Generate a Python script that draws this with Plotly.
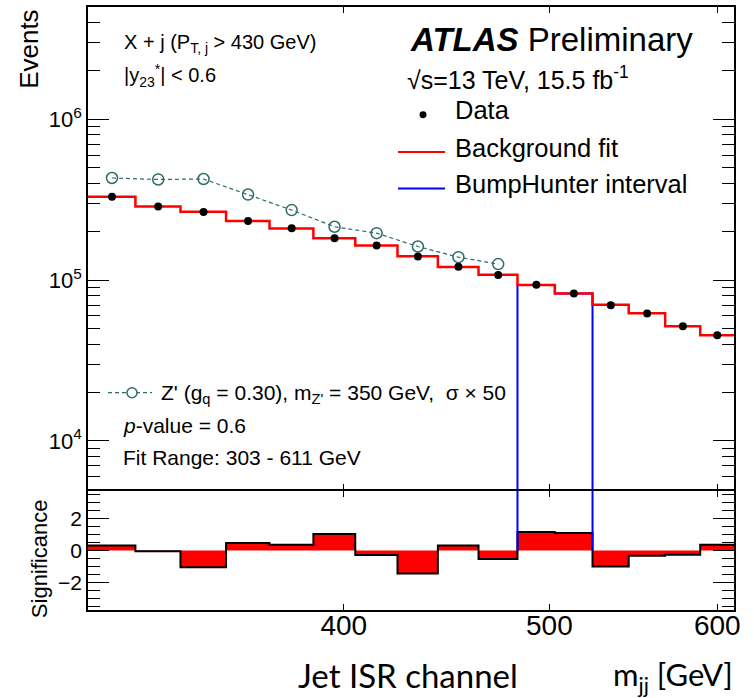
import numpy as np
import plotly.graph_objects as go

# ---------------- data ----------------
bin_edges = [303, 319, 335, 352, 369, 387, 405, 424, 443, 463, 483, 503, 524, 545, 567, 589, 611]
data_events = [330200, 286900, 265500, 233300, 210200, 182400, 164400, 140500,
               121100, 107800, 93700, 82600, 69800, 62150, 51740, 45480]
fit_events = [330000, 287000, 266000, 233000, 210000, 182000, 164500, 141000,
              121000, 108000, 93500, 82600, 70300, 62400, 51800, 45400]
signal_events = [432000, 423000, 426000, 341000, 273000, 215000, 196000, 162000, 139000, 126000]
significance = [0.31, -0.05, -1.04, 0.47, 0.35, 1.02, -0.29, -1.43,
                0.31, -0.53, 1.14, 1.08, -1.00, -0.33, -0.27, 0.35]
bh_interval = [483, 524]
x_tick_vals = [400, 500, 600]
y_main_range = [5e3, 5e6]
y_sig_range = [-3.7, 3.7]

# ---------------- geometry helpers ----------------
PL, PR, PT, PB = 88, 734, 5, 610
W, H = PR - PL, PB - PT
def px(x):
    return (x - PL) / W
def py(y):
    return (PB - y) / H

edges = np.array(bin_edges, dtype=float)
centers = 0.5 * (edges[:-1] + edges[1:])
fit_step = list(fit_events) + [fit_events[-1]]
sig_step = list(significance) + [significance[-1]]

TEAL = "rgb(47,107,107)"
ROOT_FONT = "Liberation Sans, Arial, sans-serif"
PPT_FONT = "Lato, Open Sans, sans-serif"

fig = go.Figure()

# BumpHunter interval (upper panel) - outline drawn under the fit
i0 = bin_edges.index(bh_interval[0])
i1 = bin_edges.index(bh_interval[1])
bx, by = [], []
bx.append(bin_edges[i0]); by.append(y_main_range[0] * 0.5)
for k in range(i0, i1):
    bx += [bin_edges[k], bin_edges[k + 1]]
    by += [fit_events[k], fit_events[k]]
bx.append(bin_edges[i1]); by.append(y_main_range[0] * 0.5)
fig.add_trace(go.Scatter(x=bx, y=by, mode="lines", line=dict(color="#0000ff", width=2),
                         xaxis="x", yaxis="y", showlegend=False, hoverinfo="skip"))

# Background fit
fig.add_trace(go.Scatter(x=bin_edges, y=fit_step, mode="lines", line_shape="hv",
                         line=dict(color="#ff0000", width=2.5),
                         xaxis="x", yaxis="y", showlegend=False))

# Signal
fig.add_trace(go.Scatter(x=centers[:len(signal_events)], y=signal_events, mode="lines+markers",
                         line=dict(color=TEAL, width=1.2, dash="4px,3px"),
                         marker=dict(symbol="circle-open", size=11, color=TEAL, line=dict(width=1.5)),
                         xaxis="x", yaxis="y", showlegend=False))

# Data
fig.add_trace(go.Scatter(x=centers, y=data_events, mode="markers",
                         marker=dict(symbol="circle", size=8, color="black"),
                         xaxis="x", yaxis="y", showlegend=False))

# Significance
fig.add_trace(go.Scatter(x=bin_edges, y=sig_step, mode="lines", line_shape="hv",
                         fill="tozeroy", fillcolor="#ff0000",
                         line=dict(color="black", width=2),
                         xaxis="x2", yaxis="y2", showlegend=False))

# BumpHunter interval (lower panel)
fig.add_trace(go.Scatter(x=[bh_interval[0], bh_interval[0], None, bh_interval[1], bh_interval[1]],
                         y=[0, y_sig_range[1] + 1, None, 0, y_sig_range[1] + 1], mode="lines",
                         line=dict(color="#0000ff", width=2),
                         xaxis="x2", yaxis="y2", showlegend=False, hoverinfo="skip"))

xr = [np.log10(bin_edges[0]), np.log10(bin_edges[-1])]
minor_y = [k * 10 ** n for n in range(3, 7) for k in range(2, 10)
           if y_main_range[0] < k * 10 ** n < y_main_range[1]]

axis_common = dict(showline=True, linecolor="black", linewidth=1.5, mirror="ticks",
                   ticks="inside", tickcolor="black", showgrid=False, zeroline=False)

LOW_TOP = (PB - 490.5) / H

fig.update_layout(
    width=754, height=698,
    margin=dict(l=PL, r=754 - PR, t=PT, b=698 - PB),
    paper_bgcolor="white", plot_bgcolor="white",
    font=dict(family=ROOT_FONT, color="black"),
    xaxis=dict(domain=[0, 1], anchor="y", type="log", range=xr, tickvals=x_tick_vals,
               showticklabels=False, ticklen=6, tickwidth=1.2, matches="x2", **axis_common),
    yaxis=dict(domain=[py(489), 1], anchor="x", type="log",
               range=[np.log10(y_main_range[0]), np.log10(y_main_range[1])],
               tickvals=[1e4, 1e5, 1e6], ticktext=["10<sup>4</sup>", "10<sup>5</sup>", "10<sup>6</sup>"],
               ticklen=21, tickwidth=1.2, tickfont=dict(size=22),
               minor=dict(tickvals=minor_y, ticklen=12, tickwidth=1.2, ticks="inside", tickcolor="black"),
               **axis_common),
    xaxis2=dict(domain=[0, 1], anchor="y2", type="log", range=xr, tickvals=x_tick_vals,
                ticktext=[str(v) for v in x_tick_vals], ticklen=6, tickwidth=1.2,
                tickfont=dict(size=28), ticklabelstandoff=-10, **axis_common),
    yaxis2=dict(domain=[0, LOW_TOP], anchor="x2", range=y_sig_range,
                tickvals=[-2, 0, 2], ticktext=["\u22122", "0", "2"],
                ticklen=21, tickwidth=1.2, tickfont=dict(size=21),
                minor=dict(dtick=0.5, ticklen=12, tickwidth=1.2, ticks="inside", tickcolor="black"),
                **axis_common),
)

def ann(text, x, y, size, xanchor="left", yanchor="middle", angle=0, family=ROOT_FONT):
    fig.add_annotation(text=text, x=px(x), y=py(y), xref="paper", yref="paper",
                       xanchor=xanchor, yanchor=yanchor, textangle=angle, showarrow=False,
                       borderpad=0,
                       font=dict(size=size, family=family, color="black"))

ann("X + j (P<sub>T, j</sub> > 430 GeV)", 123, 42, 20)
ann("|y<sub>23</sub><sup>*</sup>| < 0.6", 123, 74, 20)
ann("<b><i>ATLAS</i></b> Preliminary", 409, 38, 33)
ann("\u221as=13 TeV, 15.5 fb<sup>-1</sup>", 406, 76, 25)
ann("Data", 454, 108, 25.5)
ann("Background fit", 454, 146, 25.5)
ann("BumpHunter interval", 454, 183, 25.5)
ann("Z' (g<sub>q</sub> = 0.30), m<sub>Z'</sub> = 350 GeV,  \u03c3 \u00d7 50", 160, 393, 21)
ann("<i>p</i>-value = 0.6", 122, 425, 21)
ann("Fit Range: 303 - 611 GeV", 122, 457, 21)
ann("Events", 29, 47, 26, xanchor="center", angle=-90)
ann("Significance", 39, 559, 22, xanchor="center", angle=-90)
ann("Jet ISR channel", 408, 675, 33, xanchor="center", family=PPT_FONT)
ann("m<sub>jj</sub> [GeV]", 734, 677, 31, xanchor="right", family=PPT_FONT)

# legend glyphs
def shp(**kw):
    fig.add_shape(xref="paper", yref="paper", **kw)

shp(type="circle", x0=px(419.5), x1=px(426.5), y0=py(109.5), y1=py(116.5),
    fillcolor="black", line=dict(color="black", width=0))
shp(type="line", x0=px(398), x1=px(445), y0=py(150.5), y1=py(150.5), line=dict(color="#ff0000", width=2))
shp(type="line", x0=px(398), x1=px(445), y0=py(187), y1=py(187), line=dict(color="#0000ff", width=2))
shp(type="line", x0=px(108), x1=px(152), y0=py(392), y1=py(392),
    line=dict(color=TEAL, width=1.2, dash="4px,3px"))
shp(type="circle", x0=px(127), x1=px(137), y0=py(387), y1=py(397),
    fillcolor="white", line=dict(color=TEAL, width=1.5))

fig.write_html("out.html")
